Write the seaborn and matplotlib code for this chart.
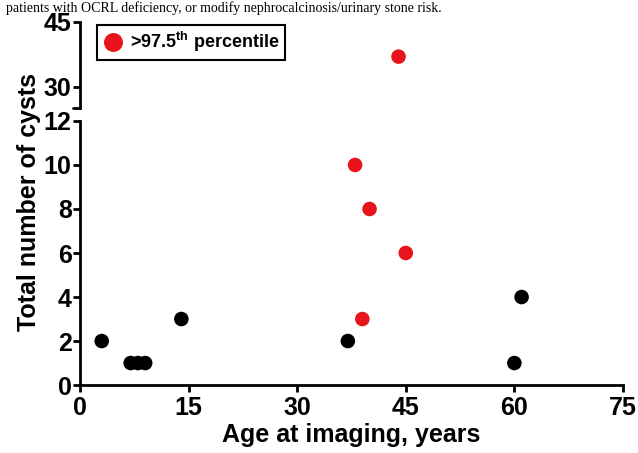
import matplotlib
matplotlib.use("Agg")
import matplotlib.pyplot as plt
import seaborn as sns
import pandas as pd

# Data
age = [3, 7, 8, 9, 14, 37, 60, 61, 44, 38, 40, 45, 39]
cysts = [2, 1, 1, 1, 3, 2, 1, 4, 37, 10, 8, 6, 3]
group = ["normal"] * 8 + [">97.5$^{th}$ percentile"] * 5
x_ticks = [0, 15, 30, 45, 60, 75]
y_ticks_low = [0, 2, 4, 6, 8, 10, 12]
y_ticks_high = [30, 45]

df = pd.DataFrame({"age": age, "cysts": cysts, "group": group})
palette = {"normal": "#000000", ">97.5$^{th}$ percentile": "#E8141B"}

sns.set_style("white")
plt.rcParams["font.family"] = ["Liberation Sans", "DejaVu Sans"]
plt.rcParams["font.weight"] = "bold"
plt.rcParams["text.color"] = "black"
plt.rcParams["axes.labelcolor"] = "black"
plt.rcParams["xtick.color"] = "black"
plt.rcParams["ytick.color"] = "black"
plt.rcParams["mathtext.fontset"] = "custom"
plt.rcParams["mathtext.rm"] = "Liberation Sans:bold"
plt.rcParams["mathtext.it"] = "Liberation Sans:bold"
plt.rcParams["mathtext.bf"] = "Liberation Sans:bold"
plt.rcParams["mathtext.default"] = "bf"

fig = plt.figure(figsize=(6.38, 4.53), dpi=100)
ax_lo = fig.add_axes([0.1254, 0.150, 0.851, 0.583])
ax_hi = fig.add_axes([0.1254, 0.7616, 0.851, 0.190], sharex=ax_lo)

for ax in (ax_lo, ax_hi):
    sns.scatterplot(data=df, x="age", y="cysts", hue="group", palette=palette,
                    s=110, edgecolor="none", ax=ax, legend=(ax is ax_hi))
    for side in ("top", "right"):
        ax.spines[side].set_visible(False)
    for side in ("left", "bottom"):
        ax.spines[side].set_linewidth(2)
        ax.spines[side].set_color("black")
    ax.tick_params(axis="both", direction="out", length=5, width=2, color="black",
                   labelcolor="black", labelsize=18, pad=1, left=True, bottom=True)
    ax.set_xlabel("")
    ax.set_ylabel("")

ax_lo.tick_params(axis="x", pad=3)
ax_lo.set_xlim(0, 75)
ax_lo.set_xticks(x_ticks)
ax_lo.set_ylim(0, 12)
ax_lo.set_yticks(y_ticks_low)
ax_lo.set_xticklabels([str(t) for t in x_ticks], fontweight="bold")
ax_lo.set_yticklabels([str(t) for t in y_ticks_low], fontweight="bold")

ax_hi.set_ylim(25.15, 45)
ax_hi.set_yticks(y_ticks_high)
ax_hi.set_yticklabels([str(t) for t in y_ticks_high], fontweight="bold")
ax_hi.spines["bottom"].set_visible(False)
ax_hi.tick_params(axis="x", bottom=False, labelbottom=False)
# small cap at bottom end of upper axis
ax_hi.plot([0, -0.012], [0, 0], transform=ax_hi.transAxes, color="black", lw=2, clip_on=False)

ax_lo.set_xlabel("Age at imaging, years", fontsize=18, fontweight="bold", labelpad=2,
                 color="black")
fig.text(0.045, 0.555, "Total number of cysts", rotation=90, fontsize=18,
         fontweight="bold", ha="center", va="center", color="black")

# legend: only the red group
handles, labels = ax_hi.get_legend_handles_labels()
h = [hh for hh, ll in zip(handles, labels) if ll != "normal"]
l = [ll for ll in labels if ll != "normal"]
ax_hi.legend(h, l, loc="upper left", bbox_to_anchor=(0.015, 1.07), frameon=True,
             fancybox=False, edgecolor="black", framealpha=1,
             prop={"weight": "bold", "size": 13}, handletextpad=0.3,
             borderpad=0.3, handlelength=1.2, markerscale=1.3)
ax_hi.get_legend().get_frame().set_linewidth(1.5)

# caption text at top of the page crop
fig.text(0.01, 0.998, "patients with OCRL deficiency, or modify nephrocalcinosis/urinary stone risk.",
         fontsize=10, family="Liberation Serif", fontweight="normal", va="top", ha="left",
         color="black")

fig.savefig("out.png", dpi=100)
